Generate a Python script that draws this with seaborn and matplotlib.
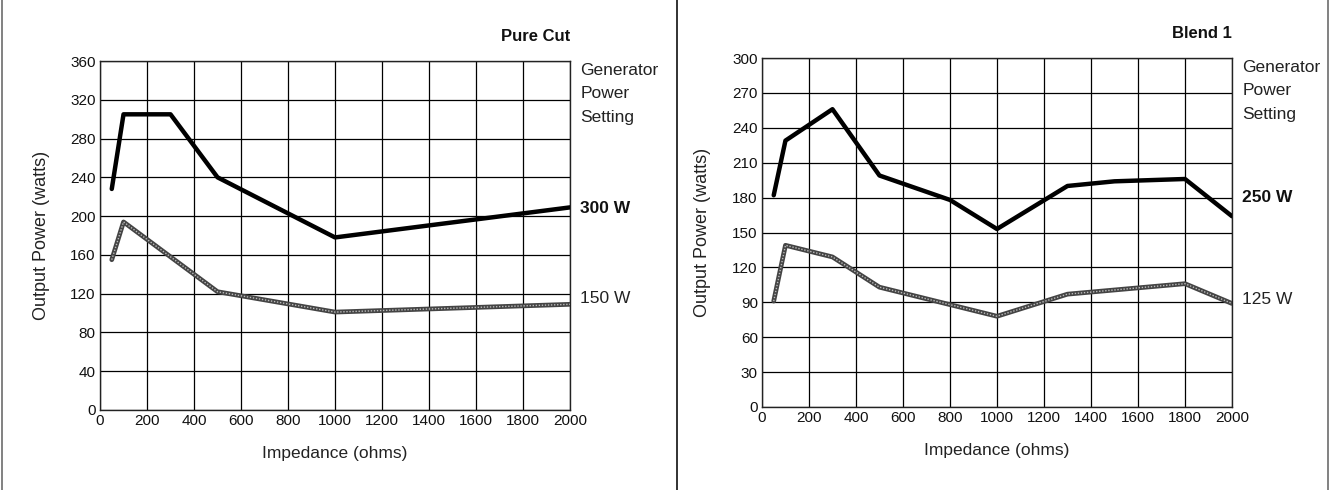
import numpy as np
import pandas as pd
import matplotlib.pyplot as plt
from matplotlib.lines import Line2D
import seaborn as sns

# Pure Cut
cut_x_hi = [50, 100, 300, 500, 1000, 2000]
cut_y_hi = [228, 305, 305, 240, 178, 209]
cut_x_lo = [50, 100, 500, 1000, 2000]
cut_y_lo = [155, 194, 122, 101, 109]

# Blend 1
blend_x_hi = [50, 100, 300, 500, 800, 1000, 1300, 1500, 1800, 2000]
blend_y_hi = [182, 229, 256, 199, 178, 153, 190, 194, 196, 164]
blend_x_lo = [50, 100, 300, 500, 800, 1000, 1300, 1800, 2000]
blend_y_lo = [91, 139, 129, 103, 88, 78, 97, 106, 89]

x_ticks = list(range(0, 2001, 200))
cut_y_ticks = list(range(0, 361, 40))
blend_y_ticks = list(range(0, 301, 30))

sns.set_style('white')
plt.rcParams['font.family'] = ['Liberation Sans', 'DejaVu Sans']
plt.rcParams['text.color'] = '#111111'
plt.rcParams['axes.labelcolor'] = '#222222'
plt.rcParams['xtick.color'] = '#111111'
plt.rcParams['ytick.color'] = '#111111'

fig = plt.figure(figsize=(13.3, 4.9), dpi=100)
ax1 = fig.add_axes([0.0752, 0.1633, 0.3534, 0.7122])
ax2 = fig.add_axes([0.5729, 0.1694, 0.3534, 0.7122])


def draw_panel(ax, xh, yh, xl, yl, yticks, title, hi_lab, lo_lab, hi_y, lo_y):
    hi = pd.DataFrame({'Impedance': xh, 'Power': yh})
    lo = pd.DataFrame({'Impedance': xl, 'Power': yl})
    sns.lineplot(data=hi, x='Impedance', y='Power', color='black', linewidth=3.2,
                 ax=ax, zorder=4, sort=False)
    sns.lineplot(data=lo, x='Impedance', y='Power', color='#444444', linewidth=3.4,
                 ax=ax, zorder=3, sort=False)
    sns.lineplot(data=lo, x='Impedance', y='Power', color='#bbbbbb', linewidth=1.0,
                 linestyle=(0, (1, 1.2)), ax=ax, zorder=3.5, sort=False)

    ax.set_xlim(0, 2000)
    ax.set_ylim(0, yticks[-1])
    ax.set_xticks(x_ticks)
    ax.set_yticks(yticks)
    ax.tick_params(length=0, labelsize=11, pad=3)
    ax.grid(True, color='black', linewidth=0.9)
    ax.set_axisbelow(True)
    for s in ax.spines.values():
        s.set_color('#222222')
        s.set_linewidth(1.0)
    ax.set_xlabel('Impedance (ohms)', fontsize=12.5, labelpad=13)
    ax.set_ylabel('Output Power (watts)', fontsize=13, labelpad=15)
    ax.text(1.0, 1.05, title, transform=ax.transAxes, ha='right', va='bottom',
            fontsize=12, fontweight='bold')
    ax.text(1.022, 0.995, 'Generator\nPower\nSetting', transform=ax.transAxes,
            ha='left', va='top', fontsize=12.5, linespacing=1.7, color='#222222')
    ax.text(1.022, hi_y, hi_lab, transform=ax.get_yaxis_transform(), ha='left',
            va='center', fontsize=12.5, fontweight='bold')
    ax.text(1.022, lo_y, lo_lab, transform=ax.get_yaxis_transform(), ha='left',
            va='center', fontsize=12.5, color='#222222')


draw_panel(ax1, cut_x_hi, cut_y_hi, cut_x_lo, cut_y_lo, cut_y_ticks,
           'Pure Cut', '300 W', '150 W', 208, 115)
draw_panel(ax2, blend_x_hi, blend_y_hi, blend_x_lo, blend_y_lo, blend_y_ticks,
           'Blend 1', '250 W', '125 W', 180, 92)

# panel frame lines
for xf, c in [(0.0018, '#777777'), (0.509, '#222222'), (0.9985, '#777777')]:
    fig.add_artist(Line2D([xf, xf], [0, 1], transform=fig.transFigure,
                          color=c, linewidth=1.3))

fig.savefig('out.png', dpi=100)
